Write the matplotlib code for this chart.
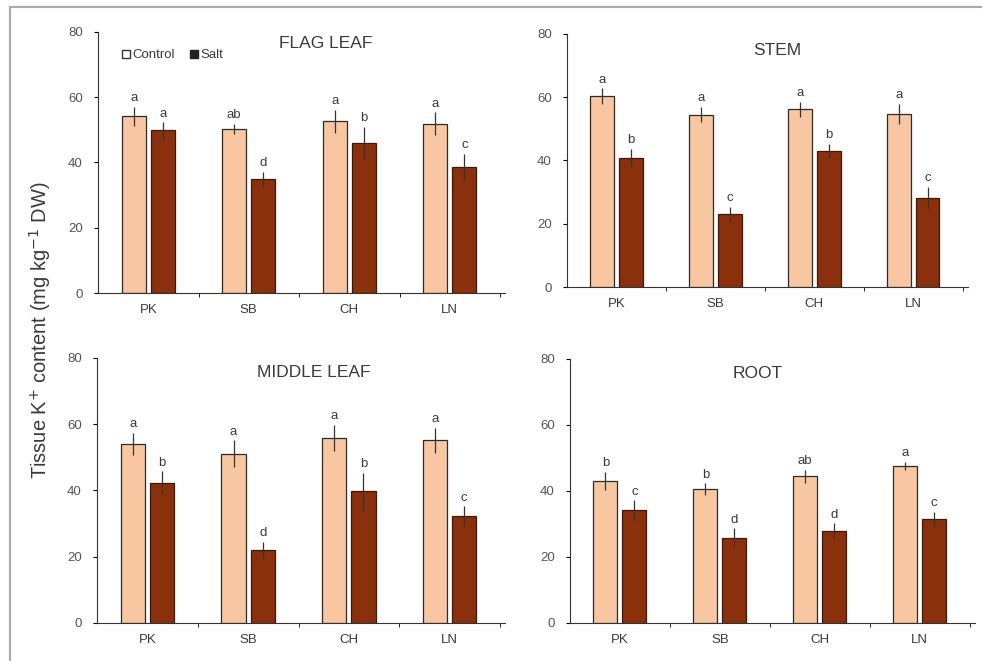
import numpy as np
import matplotlib
matplotlib.use('Agg')
import matplotlib.pyplot as plt
from matplotlib.patches import Patch

plt.rcParams['font.family'] = ['Liberation Sans', 'DejaVu Sans']

genotypes = ['PK', 'SB', 'CH', 'LN']

# values (mg kg-1 DW)
flag_ctrl = [54.1, 50.3, 52.6, 51.9]
flag_ctrl_err = [3.0, 1.5, 3.5, 3.5]
flag_salt = [49.8, 34.8, 46.0, 38.6]
flag_salt_err = [2.5, 2.3, 5.0, 4.0]
flag_letters_ctrl = ['a', 'ab', 'a', 'a']
flag_letters_salt = ['a', 'd', 'b', 'c']

stem_ctrl = [60.3, 54.5, 56.1, 54.7]
stem_ctrl_err = [2.5, 2.5, 2.4, 3.2]
stem_salt = [40.9, 23.0, 43.0, 28.1]
stem_salt_err = [2.8, 2.3, 2.3, 3.5]
stem_letters_ctrl = ['a', 'a', 'a', 'a']
stem_letters_salt = ['b', 'c', 'b', 'c']

mid_ctrl = [54.1, 51.1, 55.9, 55.1]
mid_ctrl_err = [3.3, 4.0, 4.0, 3.8]
mid_salt = [42.4, 22.0, 39.7, 32.3]
mid_salt_err = [3.4, 2.5, 5.6, 2.9]
mid_letters_ctrl = ['a', 'a', 'a', 'a']
mid_letters_salt = ['b', 'd', 'b', 'c']

root_ctrl = [43.1, 40.6, 44.4, 47.7]
root_ctrl_err = [2.8, 1.7, 2.0, 1.2]
root_salt = [34.2, 25.8, 28.0, 31.4]
root_salt_err = [3.0, 2.9, 2.2, 2.3]
root_letters_ctrl = ['b', 'b', 'ab', 'a']
root_letters_salt = ['c', 'd', 'd', 'c']

ctrl_color = '#F8C7A2'
salt_color = '#8A300C'
text_color = '#3a3a3a'

fig = plt.figure(figsize=(9.82, 6.61), dpi=100)

# grey frame line at left and top
fig.add_artist(plt.Line2D([10 / 982, 10 / 982], [0, 1 - 7 / 661], transform=fig.transFigure,
                          color='#aaaaaa', lw=1.5))
fig.add_artist(plt.Line2D([10 / 982, 1], [1 - 7 / 661, 1 - 7 / 661], transform=fig.transFigure,
                          color='#aaaaaa', lw=1.5))

panels = [
    ('FLAG LEAF', [0.0998, 0.5567, 0.4145, 0.395], (0.56, 0.955),
     flag_ctrl, flag_ctrl_err, flag_salt, flag_salt_err, flag_letters_ctrl, flag_letters_salt),
    ('STEM', [0.5774, 0.5658, 0.408, 0.383], (0.524, 0.935),
     stem_ctrl, stem_ctrl_err, stem_salt, stem_salt_err, stem_letters_ctrl, stem_letters_salt),
    ('MIDDLE LEAF', [0.0988, 0.0575, 0.4155, 0.401], (0.53, 0.945),
     mid_ctrl, mid_ctrl_err, mid_salt, mid_salt_err, mid_letters_ctrl, mid_letters_salt),
    ('ROOT', [0.5804, 0.0575, 0.412, 0.3994], (0.464, 0.945),
     root_ctrl, root_ctrl_err, root_salt, root_salt_err, root_letters_ctrl, root_letters_salt),
]

x = np.arange(len(genotypes))
w = 0.24
off = 0.145

for i, (title, pos, tpos, c, ce, s, se, lc, ls) in enumerate(panels):
    ax = fig.add_axes(pos)
    ax.bar(x - off, c, w, color=ctrl_color, edgecolor='#2a2a2a', linewidth=0.9, label='Control')
    ax.bar(x + off, s, w, color=salt_color, edgecolor='#3a1a0a', linewidth=0.9, label='Salt')
    ax.errorbar(x - off, c, yerr=ce, fmt='none', ecolor='#333333', elinewidth=0.9, capsize=0)
    ax.errorbar(x + off, s, yerr=se, fmt='none', ecolor='#333333', elinewidth=0.9, capsize=0)
    for j in range(len(genotypes)):
        ax.text(x[j] - off, c[j] + ce[j] + 0.8, lc[j], ha='center', va='bottom',
                fontsize=9.5, color=text_color)
        ax.text(x[j] + off, s[j] + se[j] + 0.8, ls[j], ha='center', va='bottom',
                fontsize=9.5, color=text_color)

    ax.set_xlim(-0.5, 3.55)
    ax.set_ylim(0, 80)
    ax.set_yticks([0, 20, 40, 60, 80])
    ax.set_xticks(x)
    ax.set_xticklabels(genotypes)
    ax.set_xticks([0.5, 1.5, 2.5, 3.5], minor=True)
    ax.tick_params(axis='x', which='major', length=0, pad=8, labelsize=9.5, labelcolor=text_color)
    ax.tick_params(axis='x', which='minor', length=3, direction='out')
    ax.tick_params(axis='y', length=3, direction='out', pad=8, labelsize=9.5, labelcolor='#555555')
    ax.spines['top'].set_visible(False)
    ax.spines['right'].set_visible(False)
    ax.spines['left'].set_color('#333333')
    ax.spines['bottom'].set_color('#333333')
    ax.text(tpos[0], tpos[1], title, transform=ax.transAxes, ha='center', va='center',
            fontsize=12.5, color=text_color)

    if i == 0:
        handles = [Patch(facecolor='white', edgecolor='#333333', label='Control'),
                   Patch(facecolor='#222222', edgecolor='#222222', label='Salt')]
        ax.legend(handles=handles, loc='center left', bbox_to_anchor=(0.03, 0.91), ncol=2,
                  frameon=False, handlelength=0.6, handleheight=0.6, handletextpad=0.15,
                  columnspacing=1.2, fontsize=9.5, labelcolor=text_color)

fig.text(40 / 982, 1 - 330 / 661, 'Tissue K$^{+}$ content (mg kg$^{-1}$ DW)', rotation=90,
         ha='center', va='center', fontsize=14.5, color=text_color)

fig.savefig('out.png', dpi=100)
